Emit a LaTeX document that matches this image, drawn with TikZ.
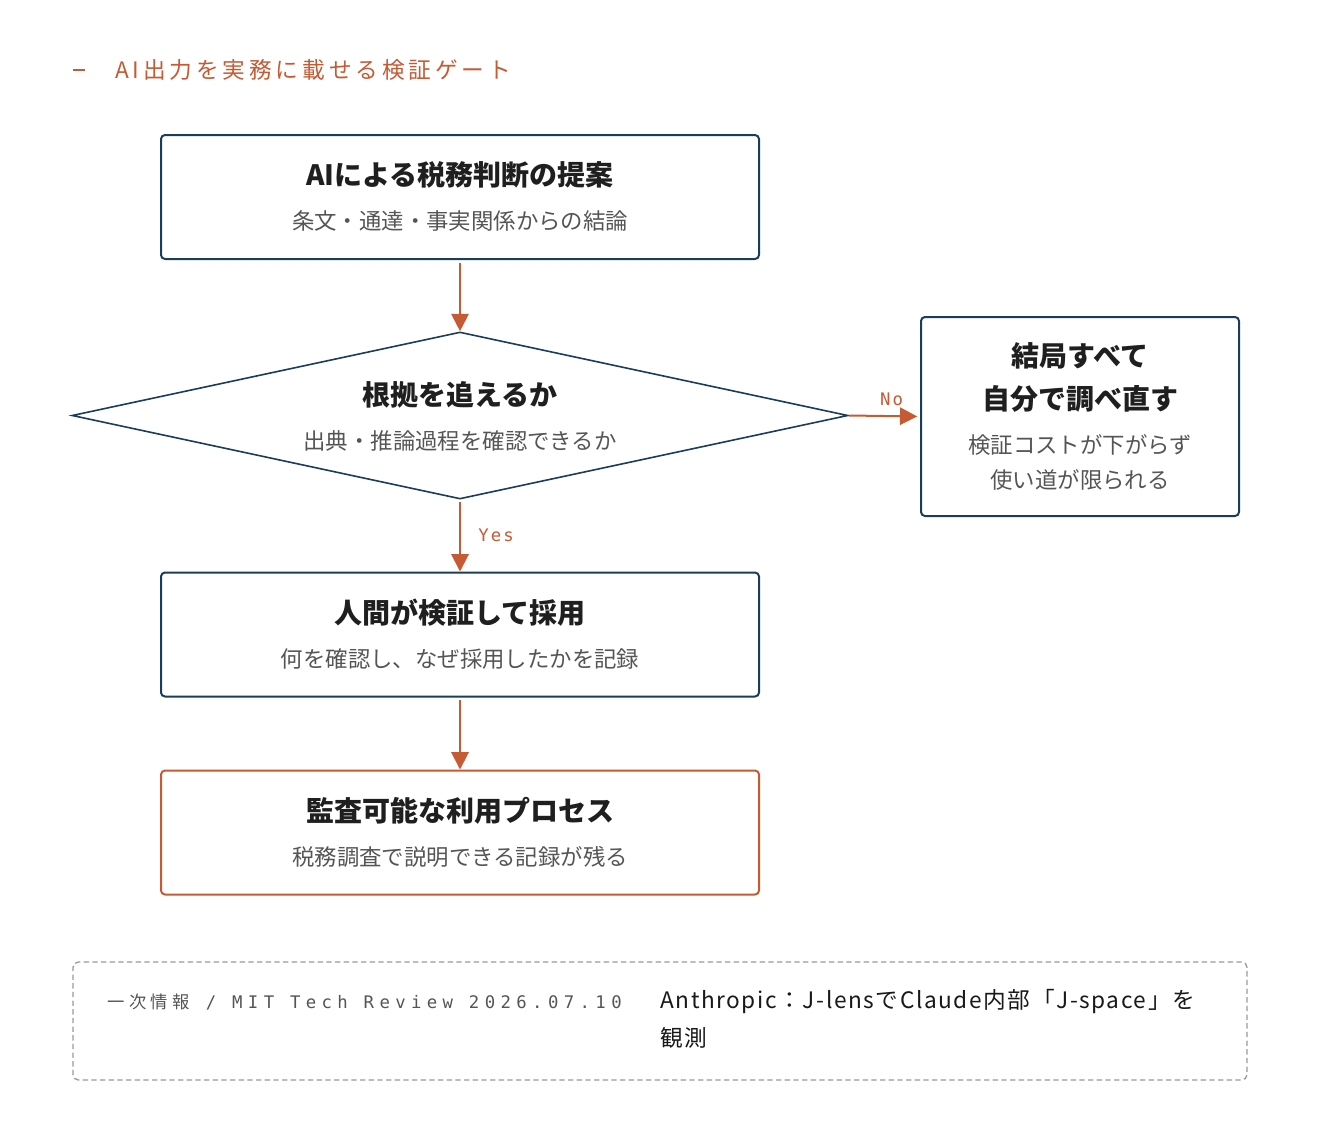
\documentclass[tikz,border=0pt]{standalone}
\usepackage{fontspec}
\setmainfont{Noto Sans CJK JP}
\newfontfamily\headfont{Noto Sans CJK JP}[LetterSpace=17]
\newfontfamily\cjkspaced{Noto Sans CJK JP}[LetterSpace=26]
\newfontfamily\monofont{DejaVu Sans Mono}[LetterSpace=31]
\newfontfamily\labelfont{DejaVu Sans Mono}[LetterSpace=12]
\newfontfamily\sourcefont{Noto Sans CJK JP}[LetterSpace=7]
\usetikzlibrary{arrows.meta,shapes.geometric,positioning}
\definecolor{navy}{HTML}{1B3C5A}
\definecolor{rust}{HTML}{C55A33}
\definecolor{subgray}{HTML}{555555}
\definecolor{dashgray}{HTML}{9A9A9A}
\tikzset{
  stepbox/.style={draw=navy, line width=1.5pt, rounded corners=3pt,
    minimum width=448.5pt, minimum height=93pt, inner sep=0pt},
  headtext/.style={font=\fontsize{21}{25}\selectfont\bfseries, text=black!88},
  subtext/.style={font=\fontsize{16.8}{20}\selectfont, text=subgray},
  flow/.style={draw=rust, line width=1.5pt, -{Triangle[length=13pt,width=13pt]}},
  answer/.style={font=\labelfont\fontsize{13}{16}\selectfont, text=rust, inner sep=1pt},
}
\begin{document}
\begin{tikzpicture}[x=0.75pt,y=-0.75pt]
  \useasboundingbox (0,0) rectangle (1320,1142);
  % heading
  \draw[rust, line width=1.5pt] (73,70) -- (85,70);
  \node[anchor=west, text=rust, inner sep=0pt,
    font=\headfont\fontsize{17}{20}\selectfont] (heading) at (115,70)
    {AI出力を実務に載せる検証ゲート};

  % steps
  \node[stepbox] (propose) at (460,197) {};
  \node[headtext] (proposeHead) at (460,175) {AIによる税務判断の提案};
  \node[subtext] (proposeSub) at (460,221) {条文・通達・事実関係からの結論};

  \node[diamond, draw=navy, line width=1.2pt, aspect=4.65, inner sep=0pt,
    minimum width=582pt, minimum height=125.25pt] (trace) at (460,415.5) {};
  \node[headtext] (traceHead) at (460,395) {根拠を追えるか};
  \node[subtext] (traceSub) at (460,441) {出典・推論過程を確認できるか};

  \node[stepbox, minimum width=238.5pt, minimum height=149.25pt] (redo) at (1080,416.5) {};
  \node[headtext] (redoHeadA) at (1080,356) {結局すべて};
  \node[headtext] (redoHeadB) at (1080,399) {自分で調べ直す};
  \node[subtext] (redoSubA) at (1080,445) {検証コストが下がらず};
  \node[subtext] (redoSubB) at (1080,480) {使い道が限られる};

  \node[stepbox] (adopt) at (460,634.5) {};
  \node[headtext] (adoptHead) at (460,613) {人間が検証して採用};
  \node[subtext] (adoptSub) at (460,659) {何を確認し、なぜ採用したかを記録};

  \node[stepbox, draw=rust] (audit) at (460,832.5) {};
  \node[headtext] (auditHead) at (460,811) {監査可能な利用プロセス};
  \node[subtext] (auditSub) at (460,857) {税務調査で説明できる記録が残る};

  % arrows
  \draw[flow, shorten <=2pt] (propose.south) -- (trace.north);
  \draw[flow, shorten >=2pt] (trace.east) -- node[answer, above=6pt, pos=0.6] (no) {No} (redo.west);
  \draw[flow, shorten <=2pt] (trace.south) -- node[answer, right=12pt] (yes) {Yes} (adopt.north);
  \draw[flow, shorten <=2pt] (adopt.south) -- (audit.north);

  % source
  \node[draw=dashgray, line width=1pt, dash pattern=on 4pt off 2.5pt, rounded corners=4pt,
    minimum width=880.5pt, minimum height=88.5pt, inner sep=0pt] (source) at (660,1021) {};
  \node[anchor=west, inner sep=0pt, text=subgray, font=\fontsize{13}{16}\selectfont] (sourceTag) at (107,1002)
    {{\cjkspaced 一次情報}{\monofont\ / MIT Tech Review 2026.07.10}};
  \node[anchor=west, inner sep=0pt, text=black!90, font=\sourcefont\fontsize{17}{20}\selectfont] (sourceTitleA) at (660,1001)
    {Anthropic：J-lensでClaude内部「J-space」を};
  \node[anchor=west, inner sep=0pt, text=black!90, font=\sourcefont\fontsize{17}{20}\selectfont] (sourceTitleB) at (660,1038)
    {観測};
\end{tikzpicture}
\end{document}
